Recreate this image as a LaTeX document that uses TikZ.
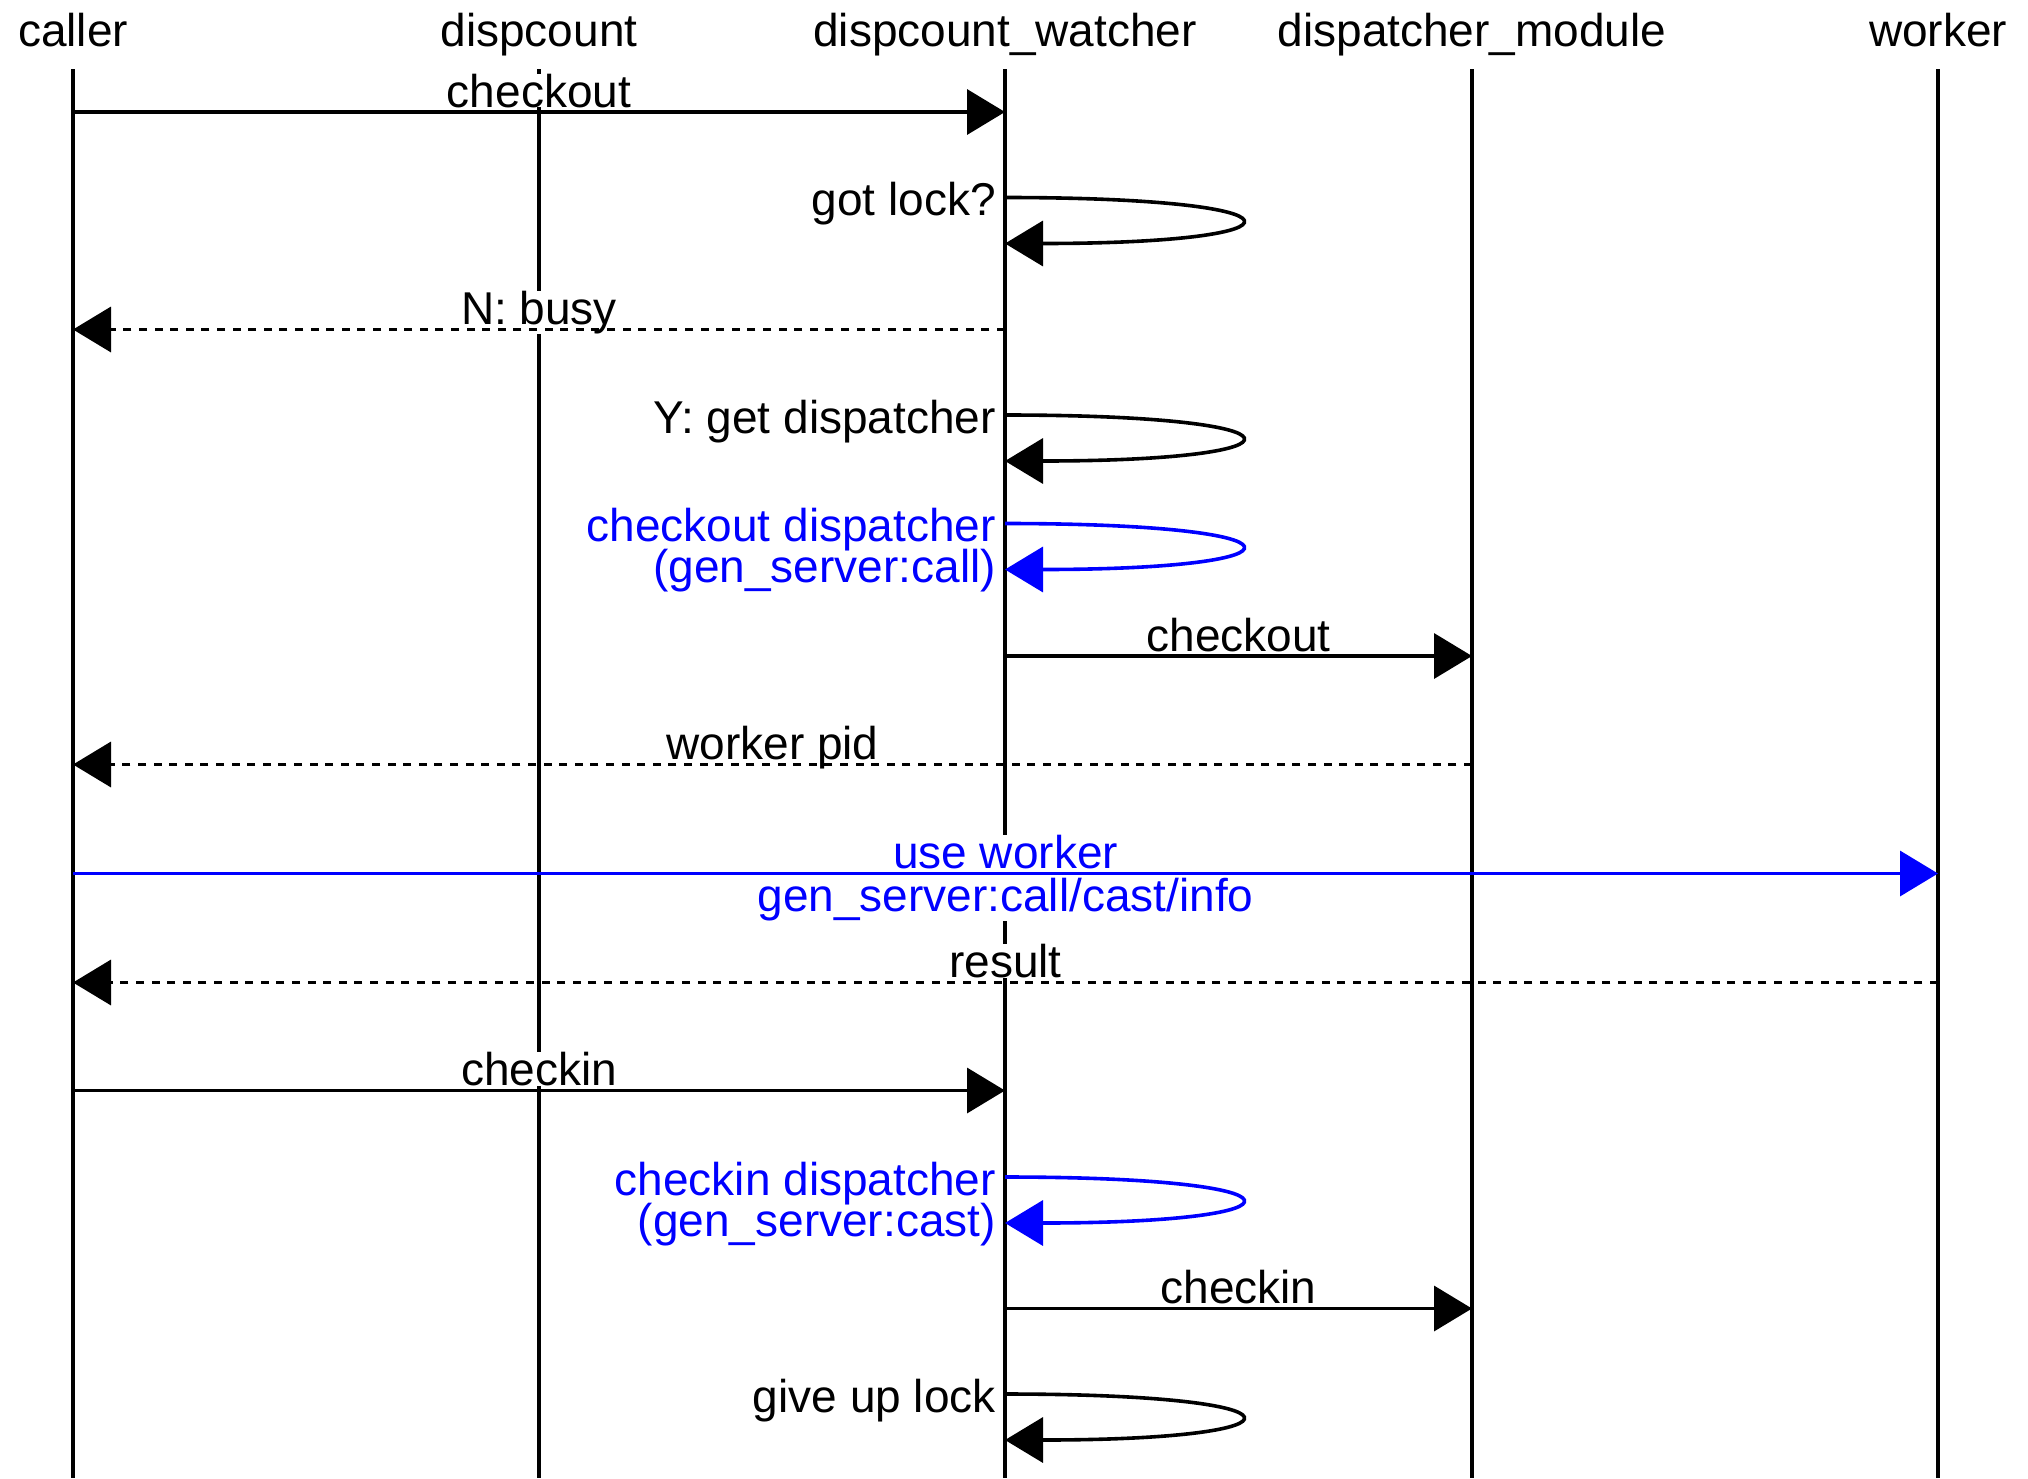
\documentclass[tikz,border=0pt]{standalone}
\usepackage{fontspec}
\setmainfont{Liberation Sans}
\usetikzlibrary{arrows.meta}
% keep the baselines of two-line labels at a fixed distance
\lineskiplimit=-100pt

\begin{document}
\begin{tikzpicture}[x=1pt, y=-1pt,
  every node/.style={font=\fontsize{46}{41}\selectfont, inner sep=0pt},
  head/.style={anchor=base},
  lifeline/.style={line width=3.6pt},
  msg/.style={line width=3.6pt, -{Triangle[length=38pt, width=45pt]}},
  reply/.style={msg, dash pattern=on 8pt off 7.6pt},
  msglabel/.style={midway, behind path, fill=white, anchor=base, yshift=5pt},
  looplabel/.style={anchor=base east, align=right},
  selfcall/.style={msg, to path={.. controls +(313,0) and +(313,0) .. (\tikztotarget)}}]

\useasboundingbox (0,0) rectangle (2028,1478);

% participants
\node[head] (h-caller)    at (73,46)   {caller};
\node[head] (h-dispcount) at (539,46)  {dispcount};
\node[head] (h-watcher)   at (1005,46) {dispcount\_watcher};
\node[head] (h-module)    at (1472,46) {dispatcher\_module};
\node[head] (h-worker)    at (1938,46) {worker};

\coordinate (caller)    at (73,69);
\coordinate (dispcount) at (539,69);
\coordinate (watcher)   at (1005,69);
\coordinate (module)    at (1472,69);
\coordinate (worker)    at (1938,69);
\coordinate (bottom)    at (0,1478);

% lifelines
\foreach \p in {caller, dispcount, watcher, module, worker}
  \draw[lifeline] (\p) -- (\p |- bottom);

% message rows
\coordinate (r1)  at (0,112);
\coordinate (r2a) at (0,197.5);  \coordinate (r2b) at (0,243.5);
\coordinate (r3)  at (0,329.5);
\coordinate (r4a) at (0,415);    \coordinate (r4b) at (0,461);
\coordinate (r5a) at (0,523.5);  \coordinate (r5b) at (0,569.5);
\coordinate (r6)  at (0,656);
\coordinate (r7)  at (0,764.5);
\coordinate (r8)  at (0,873.5);
\coordinate (r9)  at (0,982.5);
\coordinate (r10) at (0,1090.5);
\coordinate (r11a) at (0,1177);  \coordinate (r11b) at (0,1223);
\coordinate (r12) at (0,1308.5);
\coordinate (r13a) at (0,1394);  \coordinate (r13b) at (0,1440);

% messages
\draw[msg] (caller |- r1) -- node[msglabel] (m1) {checkout} (watcher |- r1);

\draw[selfcall] (watcher |- r2a) to (watcher |- r2b);
\node[looplabel] (m2) at (996,215.5) {got lock?};

\draw[reply] (watcher |- r3) -- node[msglabel] (m3) {N: busy} (caller |- r3);

\draw[selfcall] (watcher |- r4a) to (watcher |- r4b);
\node[looplabel] (m4) at (996,433) {Y: get dispatcher};

\draw[selfcall, blue] (watcher |- r5a) to (watcher |- r5b);
\node[looplabel, blue] (m5) at (996,582) {checkout dispatcher\\(gen\_server:call)};

\draw[msg] (watcher |- r6) -- node[msglabel] (m6) {checkout} (module |- r6);

\draw[reply] (module |- r7) -- node[msglabel] (m7) {worker pid} (caller |- r7);

\draw[msg, blue] (caller |- r8) -- node[msglabel, align=center, yshift=-43pt] (m8) {use worker\\[2pt]gen\_server:call/cast/info} (worker |- r8);

\draw[reply] (worker |- r9) -- node[msglabel] (m9) {result} (caller |- r9);

\draw[msg] (caller |- r10) -- node[msglabel] (m10) {checkin} (watcher |- r10);

\draw[selfcall, blue] (watcher |- r11a) to (watcher |- r11b);
\node[looplabel, blue] (m11) at (996,1236.5) {checkin dispatcher\\(gen\_server:cast)};

\draw[msg] (watcher |- r12) -- node[msglabel] (m12) {checkin} (module |- r12);

\draw[selfcall] (watcher |- r13a) to (watcher |- r13b);
\node[looplabel] (m13) at (996,1412) {give up lock};

\end{tikzpicture}
\end{document}
